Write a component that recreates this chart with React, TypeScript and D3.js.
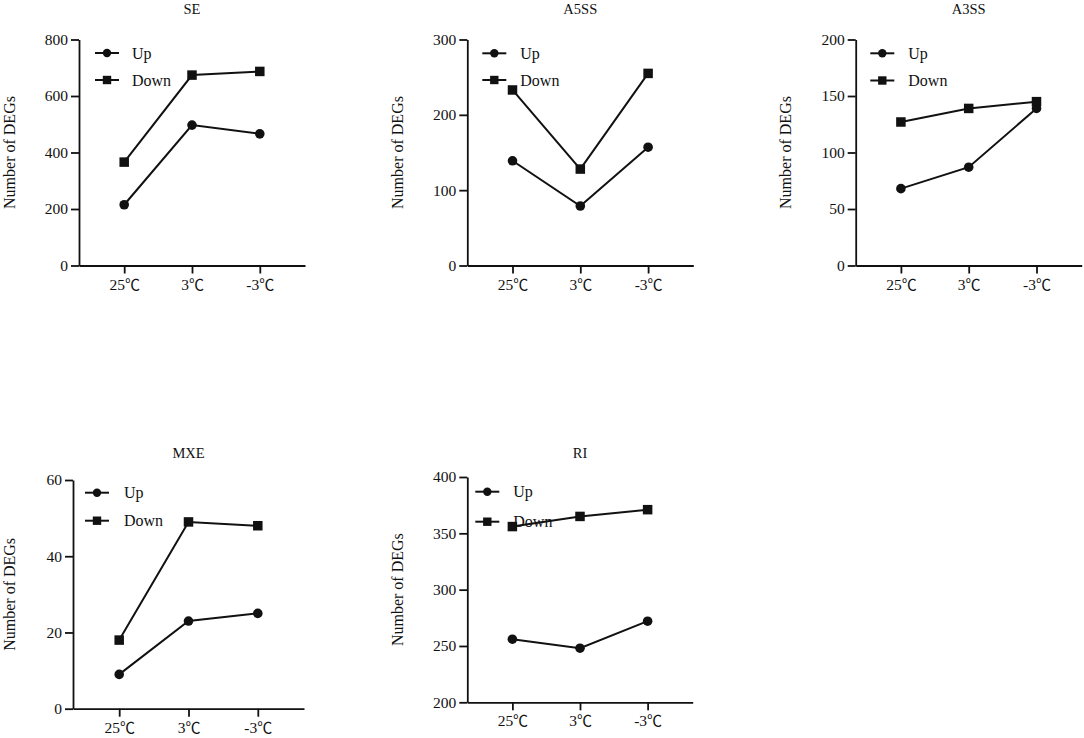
import { useEffect, useRef } from 'react';
import * as d3 from 'd3';

// temperature groups on the x axis
const categories = ['25℃', '3℃', '-3℃'];
const panelTitles = ['SE', 'A5SS', 'A3SS', 'MXE', 'RI'];

// Up / Down DEG counts per panel
const upSE = [215, 497, 466];
const downSE = [366, 674, 687];
const upA5SS = [139, 79, 157];
const downA5SS = [233, 128, 255];
const upA3SS = [68, 87, 139];
const downA3SS = [127, 139, 145];
const upMXE = [9, 23, 25];
const downMXE = [18, 49, 48];
const upRI = [256, 248, 272];
const downRI = [356, 365, 371];

// y domains and tick steps
const yMins = [0, 0, 0, 0, 200];
const yMaxes = [800, 300, 200, 60, 400];
const ySteps = [200, 100, 50, 20, 50];

const upSeries = [upSE, upA5SS, upA3SS, upMXE, upRI];
const downSeries = [downSE, downA5SS, downA3SS, downMXE, downRI];

// layout of each panel (pixel positions)
const layout = [
  { ax: 79, w: 226, top: 39.5, bottom: 265.5, titleY: 13.5, labelOff: 64, legX: 28, legTxt: 53, legY1: 13.5, legY2: 40.5 },
  { ax: 467.3, w: 226, top: 39.5, bottom: 265.5, titleY: 13.5, labelOff: 64, legX: 27, legTxt: 53, legY1: 13.8, legY2: 40.5 },
  { ax: 855.7, w: 226, top: 39.5, bottom: 265.5, titleY: 13.5, labelOff: 64.5, legX: 26.6, legTxt: 52.6, legY1: 13.8, legY2: 41 },
  { ax: 73, w: 231, top: 480, bottom: 708.7, titleY: 457.5, labelOff: 58, legX: 24, legTxt: 51, legY1: 12.7, legY2: 40.7 },
  { ax: 467.3, w: 225.4, top: 477, bottom: 702.3, titleY: 457.5, labelOff: 64, legX: 20, legTxt: 46, legY1: 14.7, legY2: 44.7 },
];

const FONT = 'Liberation Serif';
const CJK = 'Noto Sans CJK SC';
const W = 1084;
const H = 738;

export default function App() {
  const ref = useRef<SVGSVGElement>(null);

  useEffect(() => {
    if (!ref.current) return;
    const svg = d3.select(ref.current);
    svg.selectAll('*').remove();

    layout.forEach((p, i) => {
      const g = svg.append('g').style('font-family', FONT);
      const x = d3
        .scalePoint<string>()
        .domain(categories)
        .range([p.ax, p.ax + p.w])
        .padding(2 / 3);
      const y = d3.scaleLinear().domain([yMins[i], yMaxes[i]]).range([p.bottom, p.top]);
      const ticks = d3.range(yMins[i], yMaxes[i] + 1e-9, ySteps[i]);

      // axes
      const xa = g
        .append('g')
        .attr('transform', `translate(0,${p.bottom})`)
        .call(d3.axisBottom(x).tickSize(8).tickSizeOuter(0).tickPadding(5));
      const ya = g
        .append('g')
        .attr('transform', `translate(${p.ax},0)`)
        .call(d3.axisLeft(y).tickValues(ticks).tickSize(8).tickSizeOuter(0).tickPadding(3).tickFormat(d3.format('d')));
      [xa, ya].forEach((a) => {
        a.attr('font-family', null).attr('font-size', null).style('font-family', FONT).style('font-size', '15.5px');
        a.selectAll('path, line').attr('stroke', '#111').attr('stroke-width', 1.8);
        a.selectAll('text').attr('fill', '#111');
      });
      // split the degree sign into a CJK tspan so it renders full width
      xa.selectAll('text').each(function (d) {
        const t = d3.select(this);
        const label = d as string;
        t.text(null);
        t.append('tspan').text(label.replace('℃', ''));
        t.append('tspan').style('font-family', CJK).style('font-size', '15px').text('℃');
      });

      // title
      g.append('text')
        .attr('x', p.ax + p.w * 0.5)
        .attr('y', p.titleY)
        .attr('text-anchor', 'middle')
        .style('font-size', '14.5px')
        .attr('fill', '#111')
        .text(panelTitles[i]);

      // y label
      g.append('text')
        .attr('transform', `translate(${p.ax - p.labelOff},${(p.top + p.bottom) / 2}) rotate(-90)`)
        .attr('text-anchor', 'middle')
        .style('font-size', '16px')
        .attr('fill', '#111')
        .text('Number of DEGs');

      const line = d3
        .line<number>()
        .x((_, j) => x(categories[j]) as number)
        .y((d) => y(d));

      // Up series (circles)
      g.append('path')
        .datum(upSeries[i])
        .attr('fill', 'none')
        .attr('stroke', '#111')
        .attr('stroke-width', 2)
        .attr('d', line);
      g.selectAll('circle.up')
        .data(upSeries[i])
        .enter()
        .append('circle')
        .attr('class', 'up')
        .attr('cx', (_, j) => x(categories[j]) as number)
        .attr('cy', (d) => y(d))
        .attr('r', 4.8)
        .attr('fill', '#111');

      // Down series (squares)
      g.append('path')
        .datum(downSeries[i])
        .attr('fill', 'none')
        .attr('stroke', '#111')
        .attr('stroke-width', 2)
        .attr('d', line);
      const s = 9.5;
      g.selectAll('rect.down')
        .data(downSeries[i])
        .enter()
        .append('rect')
        .attr('class', 'down')
        .attr('x', (_, j) => (x(categories[j]) as number) - s / 2)
        .attr('y', (d) => y(d) - s / 2)
        .attr('width', s)
        .attr('height', s)
        .attr('fill', '#111');

      // legend
      const lx = p.ax + p.legX;
      const rows = [
        { name: 'Up', y: p.top + p.legY1, shape: 'circle' },
        { name: 'Down', y: p.top + p.legY2, shape: 'square' },
      ];
      rows.forEach((r) => {
        g.append('line')
          .attr('x1', lx - 12)
          .attr('x2', lx + 12)
          .attr('y1', r.y)
          .attr('y2', r.y)
          .attr('stroke', '#111')
          .attr('stroke-width', 2);
        if (r.shape === 'circle') {
          g.append('circle').attr('cx', lx).attr('cy', r.y).attr('r', 4.2).attr('fill', '#111');
        } else {
          g.append('rect')
            .attr('x', lx - 4.2)
            .attr('y', r.y - 4.2)
            .attr('width', 8.4)
            .attr('height', 8.4)
            .attr('fill', '#111');
        }
        g.append('text')
          .attr('x', p.ax + p.legTxt)
          .attr('y', r.y + 5.5)
          .style('font-size', '16px')
          .attr('fill', '#111')
          .text(r.name);
      });
    });
  }, []);

  return (
    <div style={{ position: 'absolute', left: 0, top: 0, width: W, height: H, background: '#fff' }}>
      <svg ref={ref} width={W} height={H} />
    </div>
  );
}
